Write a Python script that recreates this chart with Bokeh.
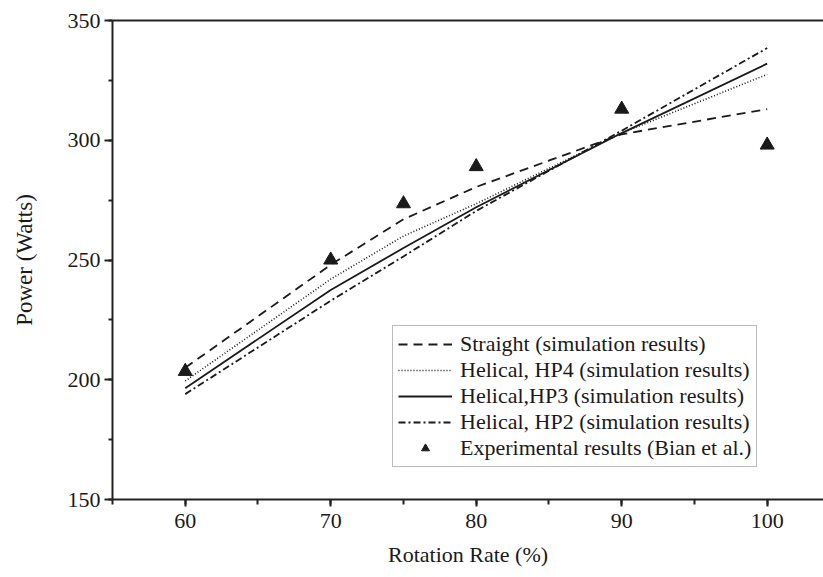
from bokeh.plotting import figure
from bokeh.models import (Range1d, LinearAxis, SingleIntervalTicker, FixedTicker,
                          Legend, LegendItem, Title)
from bokeh.embed import file_html
from bokeh.resources import INLINE

# ---- data ----
rotation = [60, 70, 75, 80, 90, 100]
straight = [205, 248, 267, 280.5, 302.5, 313]
hp4 = [199.5, 242, 260, 273.5, 303, 327.5]
hp3 = [196.5, 237.5, 255, 272, 303, 332]
hp2 = [194, 233, 251.5, 270.5, 304, 338.5]
exp_x = [60, 70, 75, 80, 90, 100]
exp_y = [203.5, 250, 273.5, 289, 313, 298]
x_title = "Rotation Rate (%)"
y_title = "Power (Watts)"

FONT = "Liberation Serif"
INK = "#1a1a1a"

p = figure(width=823, height=577, output_backend="svg", toolbar_location=None,
           x_range=Range1d(55, 103.87), y_range=Range1d(150, 350),
           min_border_left=112, min_border_right=0, min_border_top=20,
           min_border_bottom=78, x_axis_type=None, y_axis_type=None)
p.outline_line_color = None
p.xgrid.visible = False
p.ygrid.visible = False
p.background_fill_color = "white"
p.border_fill_color = "white"

xaxis = LinearAxis(ticker=SingleIntervalTicker(interval=10, num_minor_ticks=2))
yaxis = LinearAxis(ticker=SingleIntervalTicker(interval=50, num_minor_ticks=2),
                   axis_label=y_title)
for ax in (xaxis, yaxis):
    ax.axis_line_color = "#222222"
    ax.axis_line_width = 2
    ax.major_tick_line_color = "#222222"
    ax.major_tick_line_width = 2
    ax.minor_tick_line_color = "#222222"
    ax.minor_tick_line_width = 2
    ax.major_tick_in = 0
    ax.minor_tick_in = 0
    ax.major_label_text_font = FONT
    ax.major_label_text_font_size = "22px"
    ax.major_label_text_color = INK
    ax.axis_label_text_font = FONT
    ax.axis_label_text_font_size = "23px"
    ax.axis_label_text_font_style = "normal"
    ax.axis_label_text_color = INK
xaxis.major_tick_out = 7
xaxis.minor_tick_out = 5
xaxis.major_label_standoff = 7
yaxis.major_tick_out = 8
yaxis.minor_tick_out = 4
yaxis.major_label_standoff = 4
yaxis.axis_label_standoff = 28
p.add_layout(xaxis, "below")
p.add_layout(yaxis, "left")

top = LinearAxis(ticker=FixedTicker(ticks=[]), major_label_text_font_size="0px")
top.axis_line_color = "#222222"
top.axis_line_width = 2
top.major_tick_out = 0
top.minor_tick_out = 0
p.add_layout(top, "above")

xt = Title(text=x_title, align="center", offset=-21, text_font=FONT,
           text_font_size="22px", text_font_style="normal", text_color=INK,
           standoff=18)
p.add_layout(xt, "below")

r_s = p.line(rotation, straight, line_color=INK, line_width=1.8, line_dash="9 6")
r_4 = p.line(rotation, hp4, line_color=INK, line_width=1.6, line_dash="1 2")
r_3 = p.line(rotation, hp3, line_color=INK, line_width=1.8)
r_2 = p.line(rotation, hp2, line_color=INK, line_width=1.8, line_dash="7 3 2 3")
r_e = p.scatter(exp_x, exp_y, marker="triangle", size=14, fill_color=INK,
                line_color=INK)

legend = Legend(items=[
    LegendItem(label="Straight (simulation results)", renderers=[r_s]),
    LegendItem(label="Helical, HP4 (simulation results)", renderers=[r_4]),
    LegendItem(label="Helical,HP3 (simulation results)", renderers=[r_3]),
    LegendItem(label="Helical, HP2 (simulation results)", renderers=[r_2]),
    LegendItem(label="Experimental results (Bian et al.)", renderers=[r_e]),
], location=(280, 32))
legend.label_text_font = FONT
legend.label_text_font_size = "22px"
legend.label_text_color = INK
legend.label_height = 24
legend.glyph_height = 20
legend.glyph_width = 54
legend.label_standoff = 8
legend.spacing = 0
legend.padding = 5
legend.margin = 0
legend.border_line_color = "#777777"
legend.border_line_width = 1
legend.background_fill_color = "white"
legend.background_fill_alpha = 1
p.add_layout(legend, "center")

open("out.html", "w").write(file_html(p, INLINE))
